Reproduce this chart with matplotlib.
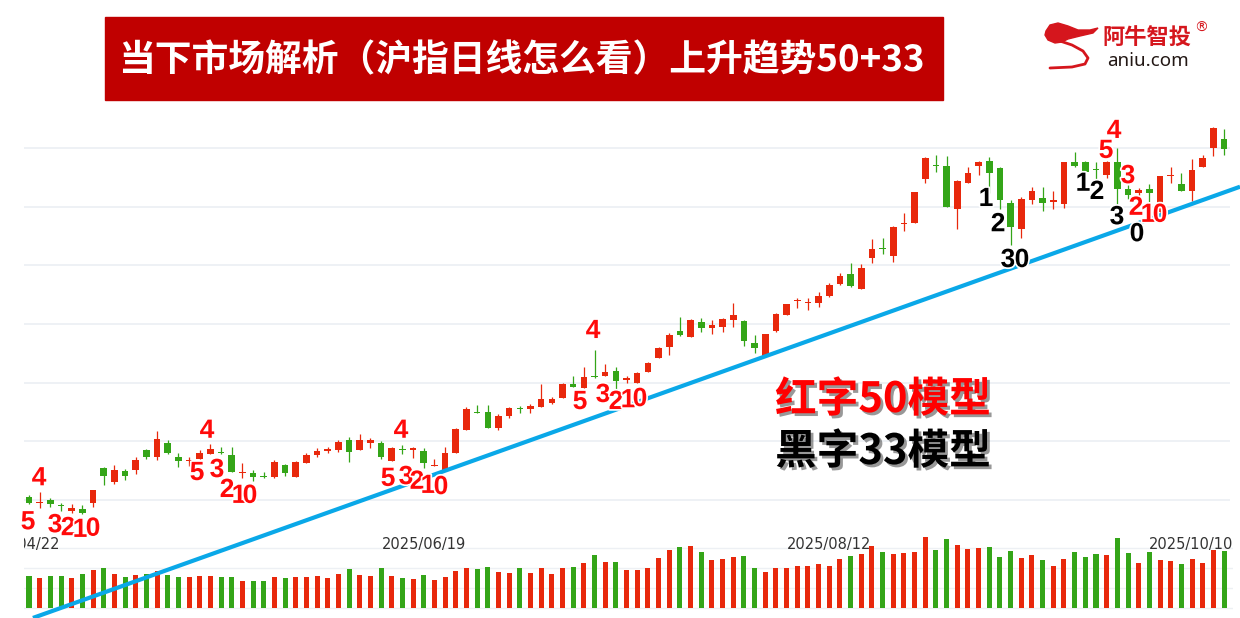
import matplotlib
matplotlib.use("Agg")
import matplotlib.pyplot as plt
import matplotlib.patheffects as pe
from matplotlib.patches import Rectangle, Polygon
import numpy as np

plt.rcParams['font.family'] = ['Noto Sans CJK SC', 'DejaVu Sans']

# ---- daily candles, 2025/04/23 .. 2025/10/10 (index points) ----
opens = [3305, 3295, 3300, 3291, 3281, 3285, 3295, 3355, 3331, 3349,
         3351, 3385, 3373, 3397, 3373, 3366, 3370, 3378, 3382, 3377,
         3346, 3346, 3341, 3339, 3360, 3339, 3363, 3377, 3384, 3385,
         3402, 3385, 3397, 3397, 3366, 3387, 3385, 3384, 3358, 3351,
         3380, 3419, 3450, 3450, 3423, 3443, 3457, 3455, 3459, 3465,
         3474, 3498, 3491, 3511, 3511, 3520, 3505, 3499, 3518, 3542,
         3561, 3588, 3578, 3603, 3593, 3595, 3607, 3605, 3568, 3545,
         3588, 3615, 3639, 3636, 3636, 3648, 3668, 3685, 3660, 3712,
         3730, 3716, 3770, 3772, 3847, 3871, 3869, 3796, 3840, 3869,
         3878, 3866, 3806, 3762, 3811, 3815, 3808, 3805, 3876, 3876,
         3864, 3854, 3876, 3830, 3823, 3830, 3791, 3852, 3839, 3827,
         3868, 3900, 3915]
highs = [3309, 3314, 3303, 3295, 3293, 3291, 3317, 3356, 3360, 3353,
         3373, 3387, 3418, 3402, 3380, 3373, 3385, 3395, 3390, 3390,
         3363, 3351, 3348, 3368, 3361, 3366, 3380, 3389, 3390, 3402,
         3407, 3412, 3406, 3401, 3390, 3394, 3390, 3389, 3370, 3390,
         3423, 3459, 3462, 3462, 3447, 3459, 3460, 3464, 3498, 3476,
         3499, 3511, 3527, 3556, 3532, 3527, 3511, 3518, 3535, 3561,
         3585, 3612, 3609, 3610, 3607, 3610, 3636, 3607, 3581, 3583,
         3619, 3634, 3644, 3644, 3655, 3670, 3687, 3704, 3702, 3745,
         3747, 3767, 3789, 3825, 3885, 3888, 3886, 3845, 3868, 3878,
         3885, 3868, 3811, 3816, 3834, 3834, 3827, 3876, 3893, 3878,
         3876, 3878, 3900, 3837, 3832, 3839, 3852, 3868, 3857, 3881,
         3888, 3936, 3932]
lows = [3293, 3286, 3288, 3281, 3278, 3276, 3288, 3326, 3327, 3334,
        3344, 3370, 3368, 3378, 3356, 3358, 3370, 3378, 3378, 3348,
        3338, 3332, 3338, 3338, 3341, 3339, 3363, 3373, 3380, 3382,
        3365, 3385, 3389, 3370, 3366, 3378, 3372, 3355, 3358, 3351,
        3380, 3419, 3448, 3423, 3419, 3440, 3448, 3448, 3459, 3464,
        3474, 3493, 3491, 3508, 3511, 3486, 3499, 3499, 3518, 3542,
        3547, 3580, 3578, 3586, 3583, 3586, 3595, 3562, 3551, 3545,
        3586, 3615, 3627, 3624, 3629, 3646, 3666, 3663, 3660, 3704,
        3719, 3706, 3759, 3772, 3840, 3859, 3799, 3762, 3840, 3854,
        3823, 3796, 3735, 3747, 3805, 3793, 3796, 3798, 3868, 3854,
        3842, 3849, 3803, 3813, 3816, 3803, 3791, 3840, 3827, 3810,
        3868, 3886, 3888]
closes = [3295, 3297, 3293, 3290, 3286, 3278, 3317, 3341, 3351, 3341,
          3368, 3373, 3404, 3380, 3366, 3368, 3380, 3387, 3380, 3348,
          3348, 3339, 3339, 3365, 3346, 3365, 3377, 3384, 3385, 3399,
          3382, 3402, 3402, 3373, 3389, 3385, 3389, 3363, 3360, 3380,
          3421, 3455, 3448, 3423, 3443, 3457, 3455, 3460, 3472, 3472,
          3498, 3493, 3510, 3510, 3518, 3503, 3506, 3516, 3534, 3559,
          3581, 3581, 3607, 3593, 3598, 3609, 3615, 3571, 3559, 3583,
          3617, 3634, 3641, 3637, 3648, 3666, 3682, 3665, 3695, 3728,
          3728, 3765, 3772, 3825, 3883, 3869, 3799, 3844, 3857, 3876,
          3857, 3811, 3765, 3813, 3827, 3806, 3811, 3876, 3869, 3859,
          3862, 3876, 3830, 3820, 3828, 3823, 3852, 3854, 3827, 3862,
          3883, 3934, 3898]
volumes = [323, 303, 323, 323, 303, 340, 377, 403, 343, 313,
           330, 343, 367, 333, 313, 313, 323, 323, 313, 313,
           270, 270, 270, 313, 303, 313, 307, 323, 297, 343,
           387, 333, 323, 403, 323, 303, 293, 333, 280, 307,
           370, 403, 395, 413, 360, 353, 397, 353, 397, 343,
           397, 413, 450, 533, 460, 460, 380, 380, 397, 503,
           580, 613, 623, 557, 480, 487, 513, 523, 403, 363,
           397, 403, 423, 423, 443, 423, 487, 523, 543, 623,
           560, 543, 550, 560, 713, 583, 693, 633, 593, 603,
           613, 513, 570, 503, 533, 480, 423, 493, 560, 513,
           543, 533, 703, 550, 453, 560, 480, 470, 443, 487,
           453, 583, 573]

date_idx = [-1, 37, 75, 112]
date_labels = ['2025/04/22', '2025/06/19', '2025/08/12', '2025/10/10']

# uptrend line anchors (bar index, index level)
trend_x = [0.37, 113.5]
trend_y = [3099, 3834]

# sequence counts: (text, bar position, level)
red_marks = [('5', -0.09, 3262), ('4', 0.94, 3337), ('3', 2.44, 3257), ('2', 3.66, 3252),
             ('1', 4.78, 3249), ('0', 6.0, 3251),
             ('4', 16.68, 3418), ('5', 15.75, 3346), ('3', 17.62, 3351), ('2', 18.56, 3317),
             ('1', 19.68, 3307), ('0', 20.71, 3307),
             ('4', 34.86, 3418), ('5', 33.65, 3336), ('3', 35.33, 3339), ('2', 36.36, 3331),
             ('1', 37.39, 3324), ('0', 38.61, 3322),
             ('4', 52.86, 3588), ('5', 51.64, 3467), ('3', 53.8, 3479), ('2', 55.01, 3467),
             ('1', 56.14, 3470), ('0', 57.26, 3472),
             ('5', 100.94, 3895), ('4', 101.69, 3929), ('3', 103.0, 3852), ('2', 103.75, 3798),
             ('1', 104.87, 3786), ('0', 106.0, 3786)]
black_marks = [('1', 89.69, 3813), ('2', 90.82, 3770), ('3', 91.75, 3709), ('0', 93.06, 3709),
               ('1', 98.78, 3839), ('2', 100.09, 3825), ('3', 101.97, 3782), ('0', 103.84, 3753)]

RED = '#e8280c'
GREEN = '#34a518'

W, H = 1240, 618
fig = plt.figure(figsize=(W / 100, H / 100), dpi=100)
fig.patch.set_facecolor('white')


def px2i(px):
    return (px - 29) / 10.67


def py2p(py):
    return 3300 + (500 - py) * 1.7045


# volume panel (drawn underneath)
axv = fig.add_axes([24 / W, 8 / H, (1233 - 24) / W, 80 / H])
axv.set_xlim(px2i(24), px2i(1233))
axv.set_ylim(-20, 780)
axv.axis('off')
for g in [0, 200, 400, 600]:
    axv.axhline(g, color='#edf0f4', lw=1.0, zorder=0)
idx = np.arange(len(volumes))
up = np.array(closes) >= np.array(opens)
vcol = [RED if u else GREEN for u in up]
axv.bar(idx, volumes, width=0.47, color=vcol, zorder=2)
for k, (di, dl) in enumerate(zip(date_idx, date_labels)):
    ha = 'right' if k == len(date_idx) - 1 else 'center'
    xx = px2i(1233) if k == len(date_idx) - 1 else di
    axv.text(xx, 630, dl, ha=ha, va='center', fontsize=10.5, color='#333333',
             family='DejaVu Sans', clip_on=True, zorder=3)

# price panel
ax = fig.add_axes([0, 0, 1, 1])
ax.set_zorder(2)
ax.patch.set_visible(False)
ax.set_xlim(px2i(0), px2i(W))
ax.set_ylim(py2p(H), py2p(0))
ax.axis('off')

ax.hlines(np.arange(3300, 3901, 100), px2i(24), px2i(1230), color='#e9edf2', lw=1.1, zorder=0)

o = np.array(opens)
c = np.array(closes)
ccol = np.array(vcol)
ax.vlines(idx, lows, highs, colors=ccol, lw=0.9, zorder=2)
body = np.maximum(np.abs(c - o), 2.2)
ax.bar(idx, body, bottom=np.minimum(o, c), width=0.62, color=ccol, zorder=3)

ax.plot(trend_x, trend_y, color='#0aa8e8', lw=3.0, solid_capstyle='butt', zorder=4)

halo = [pe.withStroke(linewidth=2.5, foreground='white')]
for t, xi, yv in red_marks:
    ax.text(xi, yv, t, color='#ff0a0a', fontsize=19, fontweight='bold', family='Liberation Sans',
            ha='center', va='center', zorder=5, path_effects=halo)
for t, xi, yv in black_marks:
    ax.text(xi, yv, t, color='black', fontsize=19, fontweight='bold', family='Liberation Sans',
            ha='center', va='center', zorder=5, path_effects=halo)

# overlay in pixel space: banner, logo, legend words
axo = fig.add_axes([0, 0, 1, 1])
axo.set_zorder(3)
axo.patch.set_visible(False)
axo.set_xlim(0, W)
axo.set_ylim(H, 0)
axo.axis('off')

axo.add_patch(Rectangle((105, 17), 838, 83, color='#c00000', zorder=1))
axo.text(118, 61, '当下市场解析（沪指日线怎么看）上升趋势50+33', color='white', fontsize=26.5,
         fontweight='bold', ha='left', va='center', zorder=2)

shadow = [pe.withSimplePatchShadow(offset=(2, -2), shadow_rgbFace='#444444', alpha=0.55)]
axo.text(775, 400, '红字50模型', color='#ff0000', fontsize=30, fontweight='bold',
         ha='left', va='center', path_effects=shadow)
axo.text(775, 452, '黑字33模型', color='black', fontsize=30, fontweight='bold',
         ha='left', va='center', path_effects=shadow)

logo_red = '#d5161d'
head = [(1046, 31), (1050, 25), (1058, 23), (1068, 26), (1078, 30), (1090, 30), (1098, 28),
        (1093, 33), (1080, 36), (1068, 39), (1062, 42), (1055, 43), (1048, 40), (1045, 35)]
axo.add_patch(Polygon(head, closed=True, color=logo_red, zorder=2))
sx = [1060, 1072, 1083, 1088, 1085, 1072, 1050]
sy = [41, 45, 51, 58, 64, 67, 68]
axo.plot(sx, sy, color=logo_red, lw=2.0, solid_capstyle='round', zorder=2)
axo.text(1147, 38, '阿牛智投', color=logo_red, fontsize=16, fontweight='bold', ha='center', va='center')
axo.text(1201, 28, '®', color=logo_red, fontsize=10, ha='center', va='center', family='DejaVu Sans')
axo.text(1148, 61, 'aniu.com', color='#231815', fontsize=13.5, ha='center', va='center', family='Noto Sans')

fig.savefig('out.png', dpi=100, facecolor='white')
